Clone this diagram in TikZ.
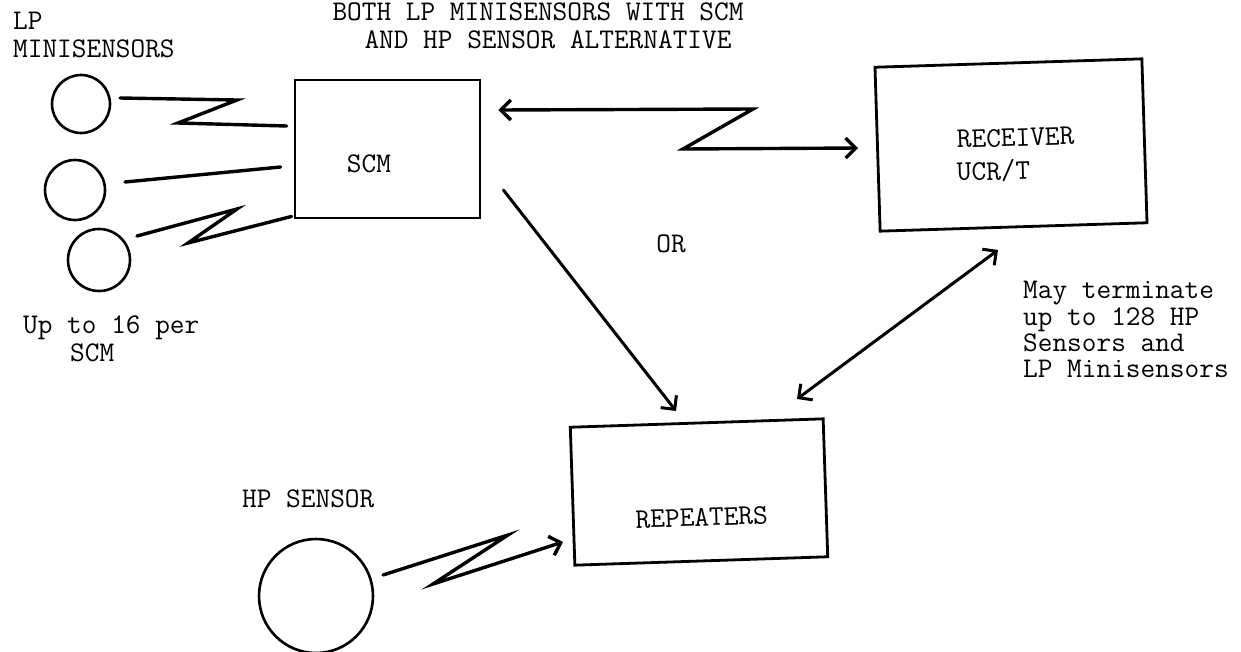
\documentclass[tikz,border=0pt]{standalone}
\usepackage{fontspec}
\usetikzlibrary{arrows.meta,calc}
\begin{document}
\begin{tikzpicture}[x=1pt,y=-1pt,
  txt/.style={font=\fontsize{28.5}{30}\selectfont\ttfamily, inner sep=0pt, anchor=base west},
  ctxt/.style={txt, anchor=base},
  sensor/.style={circle, draw, line width=2.6pt, inner sep=0pt},
  blk/.style={rectangle, draw, line width=2.8pt, inner sep=0pt},
  wire/.style={line width=3.4pt, line join=miter, line cap=round},
  tip/.style={-{Straight Barb[length=10pt,width=20pt]}},
  tips/.style={{Straight Barb[length=10pt,width=20pt]}-{Straight Barb[length=10pt,width=20pt]}}]
\useasboundingbox (0,0) rectangle (1241,651);
\fill[white] (0,0) rectangle (1241,651);

% titles and notes
\node[txt] (lp) at (13,29) {LP};
\node[txt] (mini) at (13,57) {MINISENSORS};
\node[ctxt] (t1) at (538,20) {BOTH LP MINISENSORS WITH SCM};
\node[ctxt] (t2) at (548,48) {AND HP SENSOR ALTERNATIVE};
\node[txt] (up1) at (23,333) {Up to 16 per};
\node[txt] (up2) at (70,361) {SCM};
\node[ctxt] (or) at (671,252) {OR};
\node[txt] (hpl) at (242,507) {HP SENSOR};
\node[txt] (m1) at (1023,298) {May terminate};
\node[txt] (m2) at (1023,325) {up to 128 HP};
\node[txt] (m3) at (1023,351) {Sensors and};
\node[txt] (m4) at (1023,377) {LP Minisensors};

% sensors
\node[sensor, minimum size=58pt] (c1) at (81,104) {};
\node[sensor, minimum size=60pt] (c2) at (75,190) {};
\node[sensor, minimum size=62pt] (c3) at (99,260) {};
\node[sensor, minimum width=114pt, minimum height=112pt] (hp) at (316,596) {};

% blocks
\node[blk, minimum width=185pt, minimum height=138pt] (scm) at (387.5,149) {};
\node[ctxt] (scml) at (369,172) {SCM};
\node[blk, rotate=1.8, minimum width=267pt, minimum height=164pt] (rec) at (1011,145) {};
\node[txt, rotate=1.8] (recl1) at (957,148) {RECEIVER};
\node[txt, rotate=1.8] (recl2) at (957,181) {UCR/T};
\node[blk, rotate=1.9, minimum width=253pt, minimum height=138pt] (rep) at (699,492) {};
\node[ctxt, rotate=1.9] (repl) at (702,526) {REPEATERS};

% links from minisensors to SCM
\draw[wire] ($(c1.center)+(39,-6)$) -- (237,100) -- (178,123) -- ($(scm.west)+(-7,-23)$);
\draw[wire] ($(c2.center)+(50,-8)$) -- ($(scm.west)+(-13,18)$);
\draw[wire] ($(c3.center)+(38,-24)$) -- (237,209) -- (188,243) -- ($(scm.south west)+(-2,-3)$);

% SCM <-> receiver
\draw[wire, tips] ($(scm.east)+(17,-39)$) -- (753,109) -- (683,149) -- ($(rec.center)+(-153,3)$);
% SCM -> repeaters
\draw[wire, line width=3pt, tip] ($(scm.east)+(22,41)$) -- ($(rep.center)+(-23,-81)$);
% receiver <-> repeaters
\draw[wire, line width=3pt, tips] ($(rec.center)+(-13,105)$) -- ($(rep.center)+(98,-93)$);
% HP sensor -> repeaters
\draw[wire, tip] ($(hp.center)+(67,-21)$) -- (508,535) -- (433,584) -- ($(rep.center)+(-136,50)$);
\end{tikzpicture}
\end{document}
